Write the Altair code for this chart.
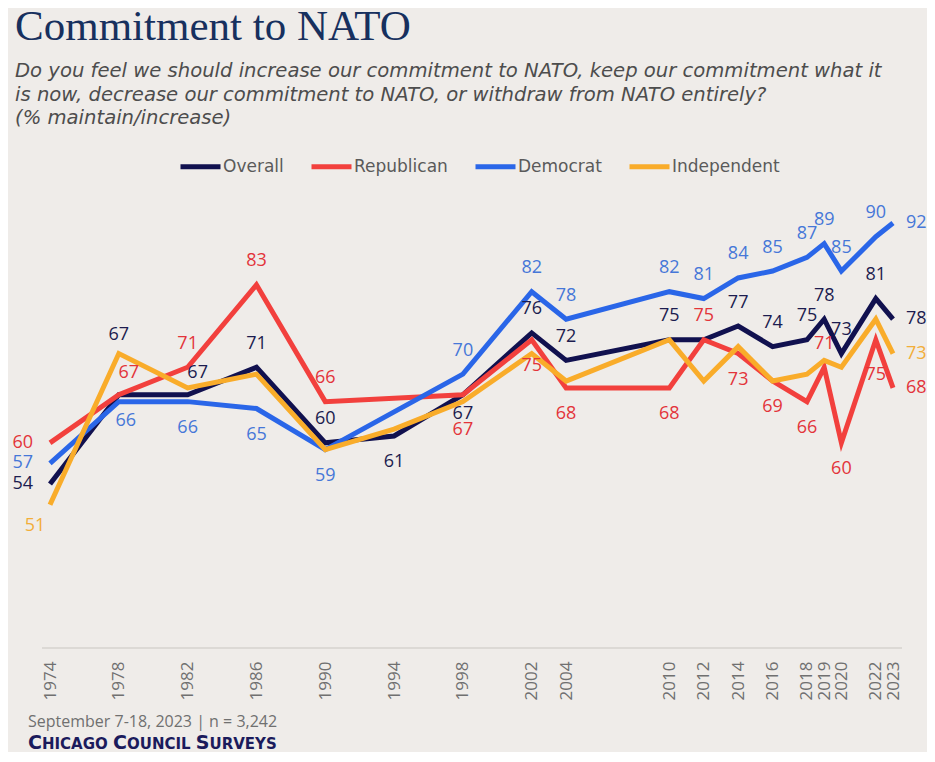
import altair as alt
import pandas as pd

# ---------------- data ----------------
years = [1974, 1978, 1982, 1986, 1990, 1994, 1998, 2002, 2004, 2010,
         2012, 2014, 2016, 2018, 2019, 2020, 2022, 2023]
overall = [54, 67, 67, 71, 60, 61, 67, 76, 72, 75, 75, 77, 74, 75, 78, 73, 81, 78]
republican = [60, 67, 71, 83, 66, None, 67, 75, 68, 68, 75, 73, 69, 66, 71, 60, 75, 68]
democrat = [57, 66, 66, 65, 59, None, 70, 82, 78, 82, 81, 84, 85, 87, 89, 85, 90, 92]
independent = [51, 73, 68, 70, 59, 62, 66, 73, 69, 75, 69, 74, 69, 70, 72, 71, 78, 73]

series_names = ["Overall", "Republican", "Democrat", "Independent"]

# where each value label sits relative to its point ("" = no label)
overall_pos = ["L", "A2", "AR", "A", "A", "B", "B1", "A", "A", "A", "", "A", "A", "A", "A", "A", "A", "R"]
republican_pos = ["L", "AR", "A", "A", "A", "", "B2", "B", "B", "B", "A", "B", "B", "B", "A", "B", "B2", "R"]
democrat_pos = ["L", "BR", "B", "B", "B", "", "A", "A", "A", "A", "A", "A", "A", "A", "A", "A", "A", "R"]
independent_pos = ["BL", "", "", "", "", "", "", "", "", "", "", "", "", "", "", "", "", "R"]

title_text = "Commitment to NATO"
subtitle_lines = [
    "Do you feel we should increase our commitment to NATO, keep our commitment what it",
    "is now, decrease our commitment to NATO, or withdraw from NATO entirely?",
    "(% maintain/increase)",
]
source_text = "September 7-18, 2023 | n = 3,242"
# small-caps brand line: (text, is_capital)
brand_parts = [("C", True), ("HICAGO", False), ("C", True), ("OUNCIL", False),
               ("S", True), ("URVEYS", False)]

# ---------------- styles ----------------
line_colors = ["#11114f", "#f2403d", "#2a66e8", "#f9ac2a"]
label_colors = ["#1c1c4f", "#e3343a", "#4677d8", "#f2ae3a"]
BG = "#efece9"
FONT = "Open Sans"

placements = {
    "A": (0, -23.5, "center"),
    "A2": (0, -60, "center"),
    "AR": (10, -22, "center"),
    "B": (0, 26, "center"),
    "B1": (0, 19, "center"),
    "B2": (0, 35, "center"),
    "BR": (7, 19, "center"),
    "BL": (-15, 21, "center"),
    "L": (-17, 0, "right"),
    "R": (13, 0, "left"),
}

rows = []
for name, vals, pos in zip(series_names,
                           [overall, republican, democrat, independent],
                           [overall_pos, republican_pos, democrat_pos, independent_pos]):
    for yr, v, p in zip(years, vals, pos):
        if v is not None:
            rows.append({"series": name, "year": yr, "value": v, "pos": p})
df = pd.DataFrame(rows)

W, H = 843, 481

x_enc = alt.X(
    "year:Q",
    scale=alt.Scale(domain=[1974, 2023], nice=False, zero=False),
    axis=alt.Axis(values=years, format="d", labelAngle=270, labelOverlap=False,
                  labelBound=False, labelFlush=False, ticks=False, grid=False,
                  domain=False, labelFont=FONT,
                  labelFontSize=17, labelColor="#707070", labelPadding=12,
                  title=None),
)
y_enc = alt.Y("value:Q", scale=alt.Scale(domain=[30, 100], nice=False, zero=False),
              axis=None)

base = alt.Chart(df)

baseline_rule = alt.Chart(pd.DataFrame({"a": [0]})).mark_rule(
    color="#dcd9d5", strokeWidth=2
).encode(x=alt.value(-8), x2=alt.value(852), y=alt.value(480))

lines = base.mark_line(strokeWidth=5).encode(
    x=x_enc,
    y=y_enc,
    color=alt.Color(
        "series:N",
        scale=alt.Scale(domain=series_names, range=line_colors),
        legend=alt.Legend(
            title=None, orient="none", legendX=128, legendY=-24,
            direction="horizontal", symbolType="stroke", symbolSize=1600,
            symbolStrokeWidth=5, labelFont="DejaVu Sans", labelFontSize=17,
            labelColor="#5a5a5a", labelOffset=0, columnPadding=17, padding=0,
        ),
    ),
)

label_layers = []
for code, (dx, dy, align) in placements.items():
    label_layers.append(
        base.transform_filter(alt.datum.pos == code)
        .mark_text(dx=dx, dy=dy, align=align, baseline="middle", font=FONT, fontSize=18)
        .encode(
            x=x_enc,
            y=y_enc,
            text=alt.Text("value:Q", format="d"),
            color=alt.Color("series:N",
                            scale=alt.Scale(domain=series_names, range=label_colors),
                            legend=None),
        )
    )

one = pd.DataFrame({"a": [0]})
title = alt.Chart(one).mark_text(
    text=title_text, align="left", baseline="alphabetic",
    font="Liberation Serif", fontSize=43, color="#17305e",
).encode(x=alt.value(-35), y=alt.value(-128))

subtitle = alt.Chart(one).mark_text(
    text=subtitle_lines, align="left", baseline="alphabetic", lineHeight=23.5,
    font="DejaVu Sans", fontStyle="italic", fontSize=19.6, color="#4d4d4d",
).encode(x=alt.value(-35), y=alt.value(-91))

source = alt.Chart(one).mark_text(
    text=source_text, align="left", baseline="middle",
    font=FONT, fontSize=16, color="#707070",
).encode(x=alt.value(-22), y=alt.value(554))

# small caps built from pieces; x advance estimated from DejaVu Sans Bold widths
BIG, SMALL = 19, 15
bold_w = {"C": .734, "H": .838, "I": .372, "A": .774, "G": .821, "O": .85,
          "U": .812, "N": .838, "L": .637, "S": .72, "R": .77, "V": .774,
          "E": .683, "Y": .724}
brand_layers = []
cursor = -22.0
for i, (txt, cap) in enumerate(brand_parts):
    size = BIG if cap else SMALL
    brand_layers.append(
        alt.Chart(one).mark_text(
            text=txt, align="left", baseline="alphabetic",
            font="DejaVu Sans", fontSize=size, fontWeight="bold", color="#1b1b5c",
        ).encode(x=alt.value(cursor), y=alt.value(581))
    )
    cursor += sum(bold_w[c] for c in txt) * size
    if not cap:
        cursor += 0.348 * SMALL

chart = (
    alt.layer(baseline_rule, lines, *label_layers, title, subtitle, source, *brand_layers)
    .resolve_scale(color="independent")
    .properties(
        width=W, height=H,
        padding={"left": 42, "top": 160, "right": 34, "bottom": 103},
        autosize=alt.AutoSizeParams(type="none"),
        background=BG,
    )
    .configure_view(stroke=None)
)

chart.save("out.html", embed_options={"renderer": "svg", "actions": False})
